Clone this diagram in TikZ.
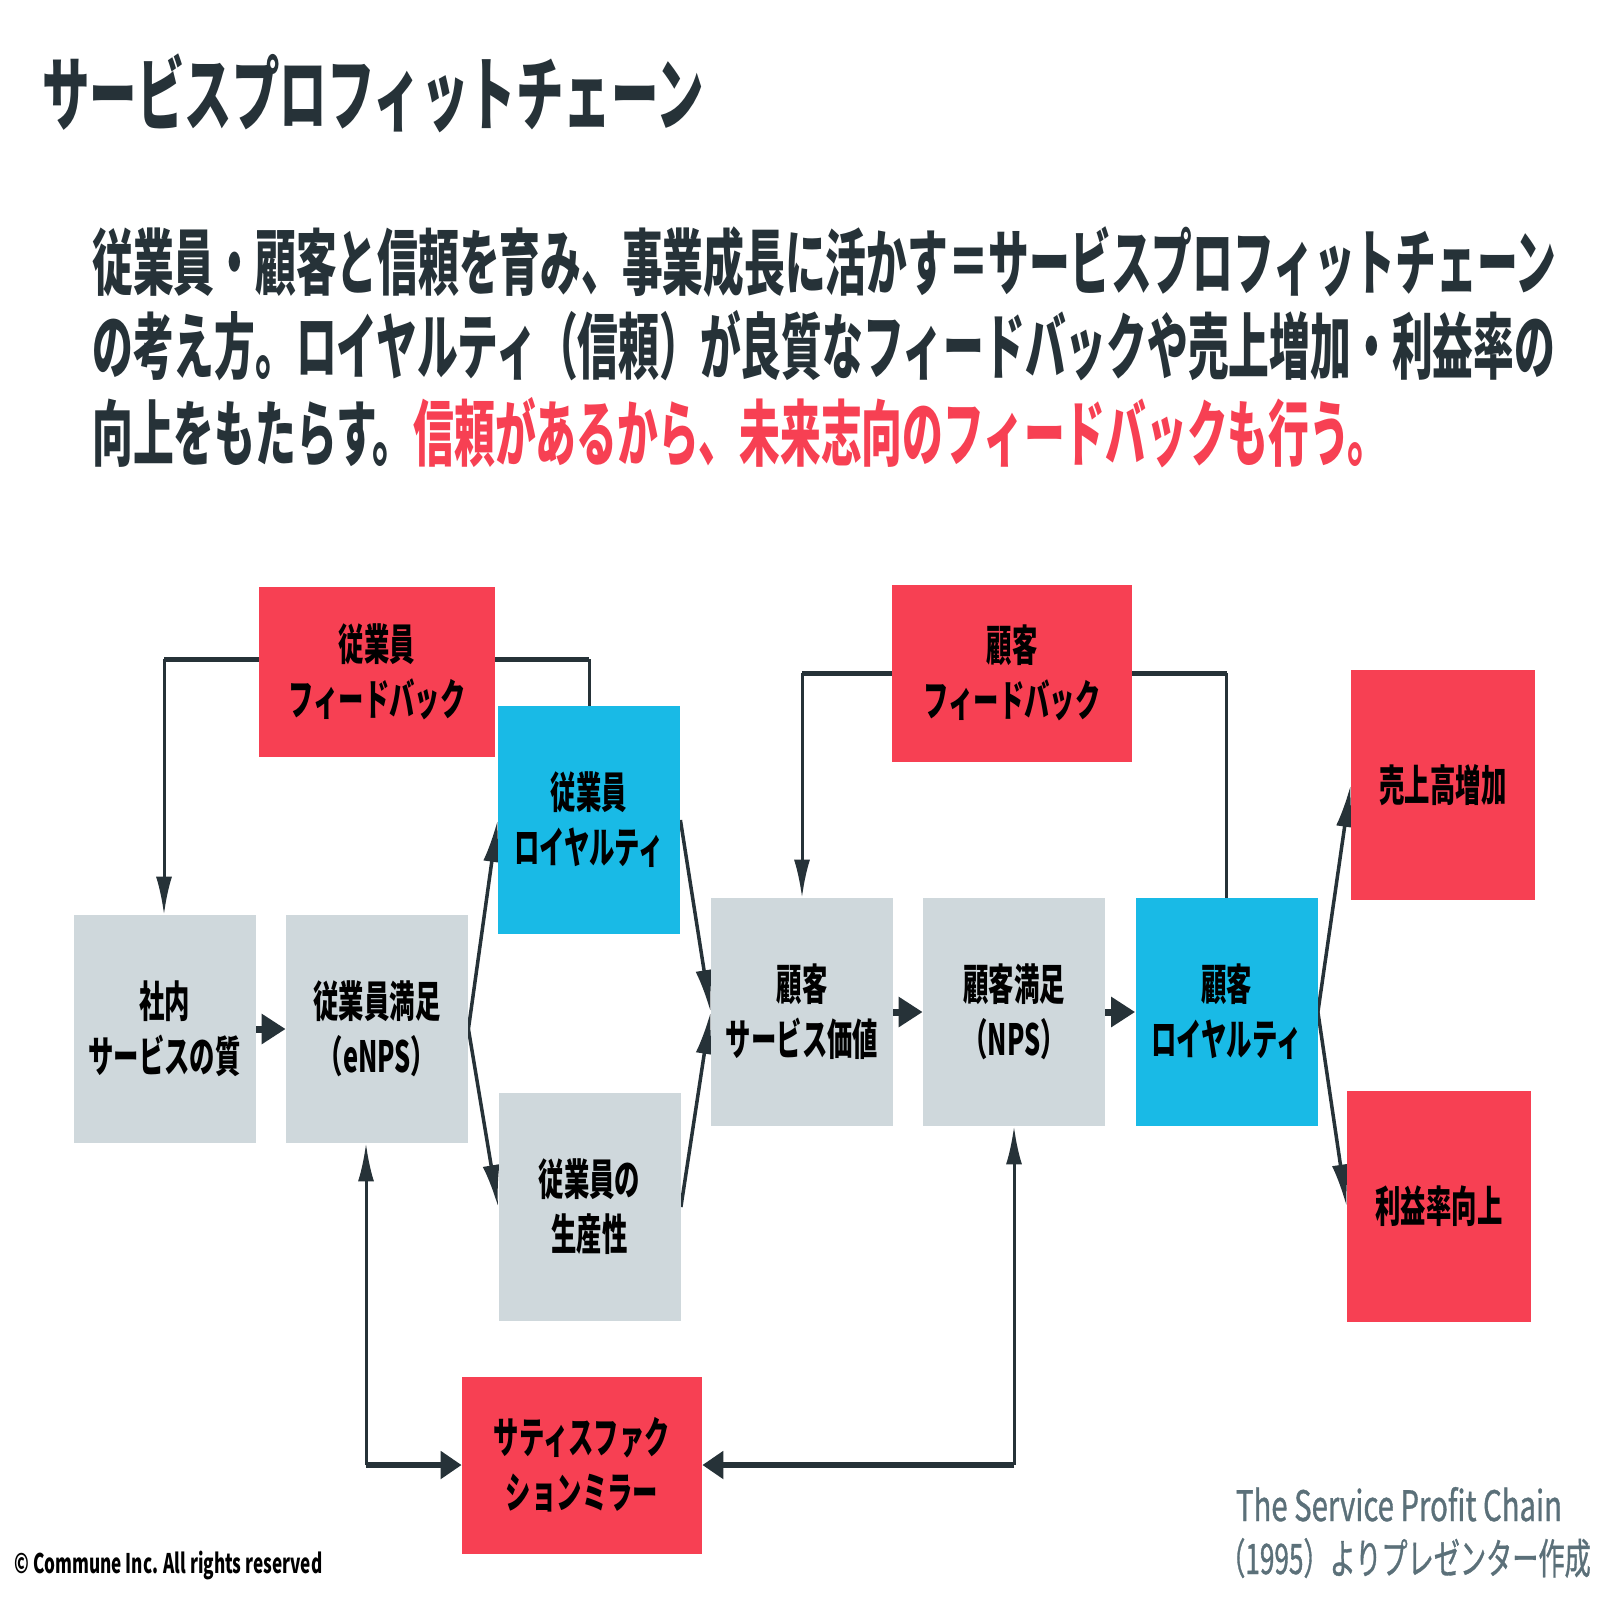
\documentclass[tikz,border=0pt]{standalone}
\usepackage{fontspec}
\usetikzlibrary{arrows.meta,backgrounds}
\newfontfamily\jp[FakeStretch=0.59]{Noto Sans CJK JP}
\newfontfamily\jpp[FakeStretch=0.566]{Noto Sans CJK JP}
\newfontfamily\jpt[FakeStretch=0.586]{Noto Sans CJK JP}
\newfontfamily\jpl[FakeStretch=0.635]{Noto Sans CJK JP}
\newfontfamily\jpm[FakeStretch=0.698,FakeBold=0.8]{Noto Sans CJK JP}
\newfontfamily\jpn[FakeStretch=0.623,FakeBold=0.8]{Noto Sans CJK JP}
\definecolor{cred}{RGB}{247,64,83}
\definecolor{ccyan}{RGB}{25,186,230}
\definecolor{cgray}{RGB}{207,216,220}
\definecolor{cdark}{RGB}{38,50,56}
\definecolor{cfoot}{RGB}{91,112,121}
\newcommand\bxfont{\jp\bfseries\fontsize{21.5pt}{27.5pt}\selectfont}
\begin{document}
\begin{tikzpicture}[x=0.5pt,y=-0.5pt,
  box/.style={inner sep=0pt, align=center, font=\bxfont, text=black, minimum width=91pt, minimum height=114pt},
  redbox/.style={box, fill=cred},
  cyanbox/.style={box, fill=ccyan},
  graybox/.style={box, fill=cgray},
  vline/.style={draw=cdark, line width=1.5pt},
  hline/.style={draw=cdark, line width=2.5pt},
  varr/.style={vline, -{Latex[length=19pt,width=8pt]}},
  darr/.style={draw=cdark, line width=1.75pt, -{Latex[length=21pt,width=8.5pt]}},
  sarr/.style={draw=cdark, line width=3.5pt, -{Triangle[length=12pt,width=14.5pt]}},
  harr/.style={draw=cdark, line width=3pt, -{Triangle[length=10.5pt,width=13.5pt]}},
  ptext/.style={anchor=base west, inner sep=0pt, text=cdark, font=\jpp\bfseries\fontsize{36pt}{40pt}\selectfont}
]
\path[use as bounding box] (0,0) rectangle (1616,1616);

% title and paragraph
\node[anchor=base west, inner sep=0pt, text=cdark, font=\jpt\bfseries\fontsize{40.5pt}{44pt}\selectfont] (title) at (42,125) {サービスプロフィットチェーン};
\node[ptext] (p1) at (92,289) {従業員・顧客と信頼を育み、事業成長に活かす＝サービスプロフィットチェーン};
\node[ptext] (p2) at (92,373) {の考え方。ロイヤルティ（信頼）が良質なフィードバックや売上増加・利益率の};
\node[ptext] (p3) at (92,460) {向上をもたらす。\textcolor{cred}{信頼があるから、未来志向のフィードバックも行う。}};

% boxes
\node[redbox, minimum width=118pt, minimum height=85pt] (efb) at (377,672) {従業員\\フィードバック};
\node[cyanbox] (eloy) at (589,820) {従業員\\ロイヤルティ};
\node[graybox] (isq) at (164.6,1029) {社内\\サービスの質};
\node[graybox] (esat) at (377,1029) {従業員満足\\（eNPS）};
\node[graybox] (eprod) at (589.5,1207) {従業員の\\生産性};
\node[redbox, minimum width=120pt, minimum height=88.5pt] (smir) at (582,1465) {サティスファク\\ションミラー};
\node[redbox, minimum width=120pt, minimum height=88.5pt] (cfb) at (1012,673) {顧客\\フィードバック};
\node[graybox] (csv) at (802,1012) {顧客\\サービス価値};
\node[graybox] (csat) at (1014,1012) {顧客満足\\（NPS）};
\node[cyanbox] (cloy) at (1226.5,1012) {顧客\\ロイヤルティ};
\node[redbox, minimum width=92pt, minimum height=115pt] (sales) at (1443,785) {売上高増加};
\node[redbox, minimum width=92pt, minimum height=115.5pt] (profit) at (1439,1206.5) {利益率向上};

% footnotes
\node[anchor=base west, inner sep=0pt, text=black, font=\jpl\bfseries\fontsize{13.5pt}{16pt}\selectfont] (copy) at (14,1573) {© Commune Inc. All rights reserved};
\node[anchor=base, inner sep=0pt, text=cfoot, font=\jpm\fontsize{21pt}{26pt}\selectfont] (src1) at (1399,1521) {The Service Profit Chain};
\node[anchor=base, inner sep=0pt, text=cfoot, font=\jpn\fontsize{21pt}{26pt}\selectfont] (src2) at (1405,1574) {（1995）よりプレゼンター作成};

% connectors
\begin{scope}[on background layer]
\fill[white] (0,0) rectangle (1616,1616);
\coordinate (ef1) at (589,659);
\coordinate (ef2) at (164,659);
\draw[vline] (eloy.north) -- (ef1);
\draw[hline] (ef1) -- (ef1 -| efb.east);
\draw[hline] (ef1 -| efb.west) -- (ef2);
\draw[varr] (ef2) -- (ef2 |- isq.north);

\draw[sarr] (isq.east) -- (esat.west);
\draw[darr] (esat.east) -- (eloy.west);
\draw[darr] (esat.east) -- (eprod.west);
\draw[darr] (eloy.east) -- (csv.west);
\draw[darr] (eprod.east) -- (csv.west);
\draw[sarr] (csv.east) -- (csat.west);
\draw[sarr] (csat.east) -- (cloy.west);
\draw[darr] (cloy.east) -- (sales.west);
\draw[darr] (cloy.east) -- (profit.west);

\coordinate (cf1) at (1226.5,673);
\coordinate (cf2) at (802,673);
\draw[vline] (cloy.north) -- (cf1);
\draw[hline] (cf1) -- (cf1 -| cfb.east);
\draw[hline] (cf1 -| cfb.west) -- (cf2);
\draw[varr] (cf2) -- (cf2 |- csv.north);

\coordinate (m1) at (366,1465);
\coordinate (m2) at (1014,1465);
\draw[varr] (m1) -- (m1 |- esat.south);
\draw[harr] (m1) -- (smir.west);
\draw[varr] (m2) -- (m2 |- csat.south);
\draw[harr] (m2) -- (smir.east);
\end{scope}
\end{tikzpicture}
\end{document}
